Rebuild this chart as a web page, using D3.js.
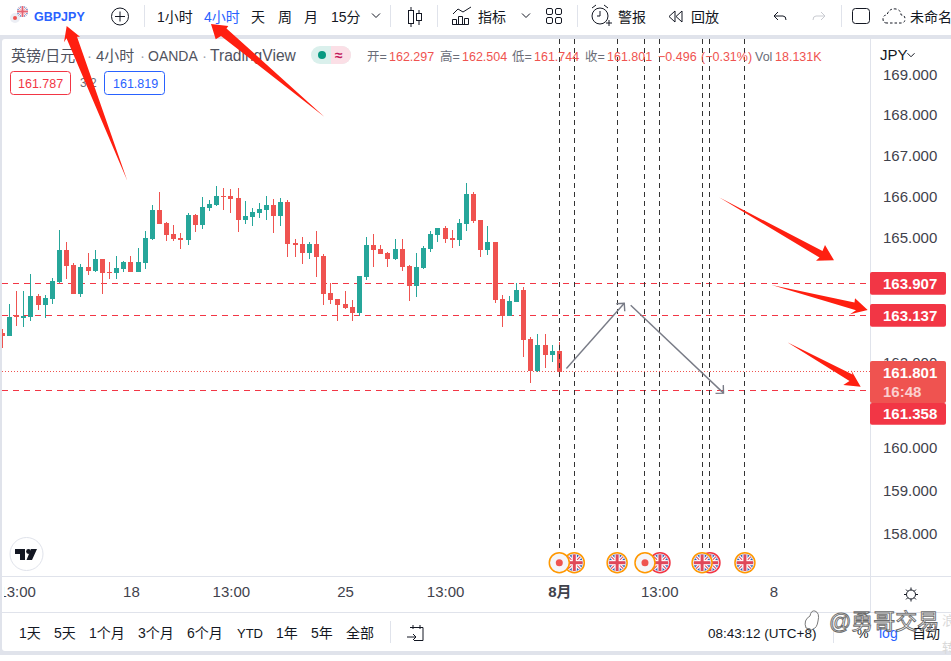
<!DOCTYPE html>
<html>
<head>
<meta charset="utf-8">
<title>GBPJPY</title>
<script src="https://cdn.jsdelivr.net/npm/d3@7"></script>
<style>
  html, body { margin: 0; padding: 0; background: #fff; overflow: hidden; }
  text { font-family: "Liberation Sans", "Noto Sans CJK SC", sans-serif; }
</style>
</head>
<body>
<div id="chart"></div>
<script>
// candles, oldest first (4h bars)
const opens = [162.723,162.659,163.147,163.083,163.107,163.611,163.395,163.539,163.947,164.715,
  164.355,163.659,164.307,164.211,164.499,164.187,164.163,164.259,164.427,164.187,
  164.403,164.979,165.675,165.363,165.099,165.003,164.955,165.555,165.315,165.723,
  165.795,166.011,166.011,165.963,165.435,165.507,165.603,165.675,165.795,165.531,
  165.867,164.883,164.859,164.643,164.859,164.571,163.683,163.539,163.419,163.347,
  163.203,164.067,164.835,164.739,164.643,164.499,164.739,164.331,163.851,164.283,
  164.739,165.075,165.243,165.003,164.955,165.339,166.059,165.435,164.715,164.907,
  163.539,163.131,163.467,163.755,162.579,161.811,162.435,162.195,162.297]
const highs = [162.819,163.419,163.731,163.731,164.139,163.659,163.635,164.043,165.195,164.907,
  164.403,164.379,164.643,164.715,164.499,164.427,164.571,164.451,164.571,164.763,
  165.171,165.795,166.107,165.387,165.315,165.123,165.603,165.579,165.987,165.915,
  166.251,166.203,166.179,166.203,165.891,165.723,165.843,166.011,165.939,165.963,
  165.915,164.979,165.027,164.907,165.171,164.619,163.915,163.539,163.731,163.515,
  164.091,165.027,165.099,164.835,164.667,164.979,164.979,164.355,164.643,164.811,
  165.171,165.243,165.291,165.195,165.459,166.323,166.107,165.435,165.291,164.907,
  163.635,163.611,163.923,163.827,162.627,162.699,162.699,162.435,162.504]
const lows = [162.363,162.659,162.891,162.867,163.011,163.275,163.083,163.419,163.915,164.019,
  163.659,163.587,164.115,164.187,163.659,164.019,164.019,164.187,164.187,164.187,
  164.259,164.955,165.339,164.931,164.931,164.739,164.835,165.147,165.219,165.651,
  165.771,165.675,165.603,165.147,165.339,165.291,165.483,165.435,165.123,165.291,
  164.547,164.547,164.379,164.499,164.067,163.395,163.419,163.011,163.299,163.011,
  163.131,163.995,164.307,164.619,164.307,164.475,164.211,163.491,163.587,164.259,
  164.667,164.907,164.883,164.763,164.811,165.171,165.363,164.547,164.595,163.443,
  162.867,163.131,163.467,162.147,161.523,161.787,161.883,162.027,161.744]
const closes = [162.659,163.107,163.099,163.131,163.611,163.395,163.563,163.971,164.715,164.331,
  163.659,164.307,164.211,164.499,164.163,164.163,164.283,164.427,164.187,164.427,
  165.003,165.675,165.339,165.075,164.979,164.963,165.555,165.315,165.747,165.819,
  166.011,165.987,165.939,165.435,165.531,165.627,165.699,165.795,165.531,165.867,
  164.859,164.835,164.643,164.859,164.547,163.659,163.515,163.395,163.323,163.203,
  164.091,164.835,164.715,164.619,164.499,164.739,164.307,163.851,164.307,164.763,
  165.099,165.243,164.979,164.963,165.363,166.059,165.411,164.715,164.907,163.515,
  163.131,163.491,163.755,162.555,161.811,162.435,162.195,162.291,161.801]

const priceTicks = [169, 168, 167, 166, 165, 162, 160, 159, 158]
const timeTicks = [2, 18, 32, 48, 62, 78, 92, 108]
const timeLabels = ['13:00', '18', '13:00', '25', '13:00', '8月', '13:00', '8']

// horizontal levels and economic events
const dashedLevels = [163.907, 163.137, 161.358]
const lastPrice = 161.801
const eventBars = [80.1, 78, 86.1, 92.1, 90, 99.1, 98, 104]
const eventKinds = ['flag', 'dot', 'flag', 'flag', 'dot', 'flag', 'flag', 'flag']
const eventRims = ['#ff9800', '#ff9800', '#ff9800', '#f23645', '#ff9800', '#f23645', '#ff9800', '#ff9800']
const trendBars = [[79, 87.1], [88, 101]]
const trendPrices = [[161.875, 163.427], [163.38, 161.29]]

const up = '#26a69a', down = '#ef5350', alert = '#f23645', blue = '#2962ff', ink = '#131722', soft = '#50535e'
const width = 951, height = 661
const paneRight = 870, paneTop = 39, timeTop = 576.5, barTop = 612.5, panelBottom = 651

const svg = d3.select('#chart').append('svg')
  .attr('width', width).attr('height', height)
  .style('display', 'block')

const x = d3.scaleLinear().domain([0, 78]).range([2.4, 559.3])
const y = d3.scaleLog().domain([169, 158]).range([74.4, 533.8])
// snap to pixel centres, the way the original canvas does
const snap = v => Math.floor(v) + 0.5

// ---- frame ----
svg.append('rect').attr('width', width).attr('height', height).attr('fill', '#fff')
svg.append('rect').attr('y', 35).attr('width', width).attr('height', 620).attr('fill', '#e0e3eb')
svg.append('rect').attr('x', 2).attr('y', paneTop).attr('width', width).attr('height', panelBottom - paneTop)
  .attr('rx', 3).attr('fill', '#fff')

svg.append('clipPath').attr('id', 'pane').append('rect')
  .attr('x', 2).attr('y', paneTop).attr('width', paneRight - 2).attr('height', timeTop - paneTop)
svg.append('clipPath').attr('id', 'timeClip').append('rect')
  .attr('x', 4).attr('y', 0).attr('width', width).attr('height', 40)

const pane = svg.append('g').attr('clip-path', 'url(#pane)')

// ---- levels ----
pane.selectAll('.level').data(dashedLevels).join('line')
  .attr('x1', 2).attr('x2', paneRight)
  .attr('y1', d => snap(y(d))).attr('y2', d => snap(y(d)))
  .attr('stroke', alert).attr('stroke-width', 1).attr('stroke-dasharray', '6 5')

pane.append('line')
  .attr('x1', 2).attr('x2', paneRight).attr('y1', snap(y(lastPrice))).attr('y2', snap(y(lastPrice)))
  .attr('stroke', down).attr('stroke-width', 1).attr('stroke-dasharray', '1 2')

// ---- candles ----
const bodyLeft = i => Math.round(x(i) - 2.5)
const candles = pane.selectAll('.candle').data(d3.range(opens.length)).join('g')
candles.append('line')
  .attr('x1', i => bodyLeft(i) + 2.5).attr('x2', i => bodyLeft(i) + 2.5)
  .attr('y1', i => Math.round(y(highs[i]))).attr('y2', i => Math.round(y(lows[i])))
  .attr('stroke', i => closes[i] >= opens[i] ? up : down).attr('stroke-width', 1)
candles.append('rect')
  .attr('x', bodyLeft).attr('width', 5)
  .attr('y', i => Math.round(y(Math.max(opens[i], closes[i]))))
  .attr('height', i => Math.max(1, Math.round(Math.abs(y(opens[i]) - y(closes[i])))))
  .attr('fill', i => closes[i] >= opens[i] ? up : down)

// ---- event lines ----
pane.selectAll('.event').data(eventBars).join('line')
  .attr('x1', d => snap(x(d))).attr('x2', d => snap(x(d)))
  .attr('y1', paneTop).attr('y2', 552)
  .attr('stroke', '#333').attr('stroke-width', 1).attr('stroke-dasharray', '5 4')

// ---- drawn arrows ----
trendBars.forEach((bars, k) => {
  const x1 = x(bars[0]), x2 = x(bars[1]), y1 = y(trendPrices[k][0]), y2 = y(trendPrices[k][1])
  const a = Math.atan2(y2 - y1, x2 - x1)
  const head = [a + Math.PI - 0.785, a - Math.PI + 0.785].map(t => [x2 + 8 * Math.cos(t), y2 + 8 * Math.sin(t)])
  const g = svg.append('g').attr('stroke', '#787b86').attr('stroke-width', 1.4).attr('fill', 'none')
  g.append('line').attr('x1', x1).attr('y1', y1).attr('x2', x2).attr('y2', y2)
  g.append('path').attr('d', d3.line()([head[0], [x2, y2], head[1]]))
})

// ---- event markers ----
function ukFlag(g, cx, cy, id, r) {
  const k = r / 8.5
  g.append('clipPath').attr('id', id).append('circle').attr('cx', cx).attr('cy', cy).attr('r', r)
  const f = g.append('g').attr('clip-path', `url(#${id})`)
  f.append('rect').attr('x', cx - r).attr('y', cy - r).attr('width', 2 * r).attr('height', 2 * r).attr('fill', '#2f5db5')
  const diag = [[-r, -r, r, r], [-r, r, r, -r]]
  diag.forEach(d => f.append('line').attr('x1', cx + d[0]).attr('y1', cy + d[1]).attr('x2', cx + d[2]).attr('y2', cy + d[3]).attr('stroke', '#fff').attr('stroke-width', 3.4 * k))
  diag.forEach(d => f.append('line').attr('x1', cx + d[0]).attr('y1', cy + d[1]).attr('x2', cx + d[2]).attr('y2', cy + d[3]).attr('stroke', '#e0485a').attr('stroke-width', 1.1 * k))
  f.append('rect').attr('x', cx - r).attr('y', cy - 2.6 * k).attr('width', 2 * r).attr('height', 5.2 * k).attr('fill', '#fff')
  f.append('rect').attr('x', cx - 2.6 * k).attr('y', cy - r).attr('width', 5.2 * k).attr('height', 2 * r).attr('fill', '#fff')
  f.append('rect').attr('x', cx - r).attr('y', cy - 1.5 * k).attr('width', 2 * r).attr('height', 3 * k).attr('fill', '#e0485a')
  f.append('rect').attr('x', cx - 1.5 * k).attr('y', cy - r).attr('width', 3 * k).attr('height', 2 * r).attr('fill', '#e0485a')
}

eventBars.forEach((d, i) => {
  const cx = x(d), cy = 562.7
  const g = svg.append('g')
  g.append('circle').attr('cx', cx).attr('cy', cy).attr('r', 10).attr('fill', '#f5f5f9')
    .attr('stroke', eventRims[i]).attr('stroke-width', 1.5)
  if (eventKinds[i] === 'dot') {
    g.append('circle').attr('cx', cx).attr('cy', cy).attr('r', 3.5).attr('fill', down)
  } else {
    ukFlag(g, cx, cy, 'flag' + i, 8.5)
  }
})

// ---- axes ----
svg.append('line').attr('x1', paneRight + 0.5).attr('x2', paneRight + 0.5).attr('y1', paneTop).attr('y2', barTop).attr('stroke', '#e0e3eb')
svg.append('line').attr('x1', 2).attr('x2', width).attr('y1', timeTop).attr('y2', timeTop).attr('stroke', '#e0e3eb')
svg.append('line').attr('x1', 2).attr('x2', width).attr('y1', barTop).attr('y2', barTop).attr('stroke', '#e0e3eb')

const priceAxis = svg.append('g')
  .attr('transform', `translate(${paneRight},0)`)
  .call(d3.axisRight(y).tickValues(priceTicks).tickSize(0).tickPadding(13).tickFormat(d3.format('.3f')))
priceAxis.select('.domain').remove()
priceAxis.selectAll('text').attr('font-size', 15).attr('fill', '#3f424c')

const timeAxis = svg.append('g')
  .attr('transform', `translate(0,${timeTop})`)
  .attr('clip-path', 'url(#timeClip)')
  .call(d3.axisBottom(x).tickValues(timeTicks).tickSize(0).tickPadding(10)
    .tickFormat((d, i) => timeLabels[i]))
timeAxis.select('.domain').remove()
timeAxis.selectAll('text')
  .attr('font-size', 15).attr('fill', '#3f424c')
  .attr('font-weight', d => d === 78 ? 'bold' : 'normal')

// ---- price labels ----
function priceBox(top, h, color) {
  svg.append('rect').attr('x', paneRight).attr('y', top).attr('width', 76).attr('height', h).attr('rx', 2).attr('fill', color)
}
function boxText(s, cy, fill) {
  svg.append('text').attr('x', 883).attr('y', cy + 5.5).attr('font-size', 15).attr('font-weight', 'bold')
    .attr('fill', fill).text(s)
}
priceBox(361, 42, down)
priceBox(403, 21.7, alert)
priceBox(272, 22.7, alert)
priceBox(304, 22.7, alert)
boxText('163.907', 283.5, '#fff')
boxText('163.137', 315.5, '#fff')
boxText('161.801', 372.5, '#fff')
boxText('16:48', 391.5, '#fbcfce')
boxText('161.358', 413.5, '#fff')

svg.append('text').attr('x', 880).attr('y', 60).attr('font-size', 15).attr('fill', ink).text('JPY')
chevron(911, 55, 3.5)

// ---- legend ----
function label(s, px, py, size, fill, weight) {
  return svg.append('text').attr('x', px).attr('y', py).attr('font-size', size)
    .attr('fill', fill).attr('font-weight', weight || 'normal').text(s)
}
function chevron(cx, cy, r) {
  svg.append('path').attr('d', `M${cx - r},${cy - r / 2}L${cx},${cy + r / 2}L${cx + r},${cy - r / 2}`)
    .attr('fill', 'none').attr('stroke', ink).attr('stroke-width', 1)
}
label('英镑/日元', 11, 61, 15, soft)
label('·', 87, 61, 15, '#a0a3ad')
label('4小时', 96, 61, 15, soft)
label('·', 140, 61, 15, '#a0a3ad')
label('OANDA', 148, 61, 14, soft)
label('·', 202, 61, 15, '#a0a3ad')
label('TradingView', 210, 61, 15.6, soft)

svg.append('rect').attr('x', 311).attr('y', 46).attr('width', 40).attr('height', 18).attr('rx', 9).attr('fill', '#daf0ec')
svg.append('path').attr('d', 'M331,46h11a9,9 0 0 1 0,18h-11z').attr('fill', '#fbdfe6')
svg.append('circle').attr('cx', 322).attr('cy', 55).attr('r', 4).attr('fill', '#089981')
label('≈', 335, 60, 14, '#c2185b', 'bold')

const legendKeys = ['开=', '高=', '低=', '收=']
const legendVals = ['162.297', '162.504', '161.744', '161.801']
const legendKeyX = [367, 440, 512, 585]
legendKeys.forEach((k, i) => {
  label(k, legendKeyX[i], 61, 12.5, '#6a6d78')
  label(legendVals[i], legendKeyX[i] + 22, 61, 12.5, down)
})
label('−0.496', 658, 61, 12.5, down)
label('(−0.31%)', 701, 61, 12.5, down)
label('Vol', 755, 61, 12.5, '#6a6d78')
label('18.131K', 775, 61, 12.5, down)

svg.append('rect').attr('x', 10.5).attr('y', 71.5).attr('width', 60).attr('height', 23).attr('rx', 3).attr('fill', '#fff').attr('stroke', alert)
label('161.787', 18, 88, 12.5, alert)
label('3.2', 80, 87, 12, '#6a6d78')
svg.append('rect').attr('x', 104.5).attr('y', 71.5).attr('width', 60).attr('height', 23).attr('rx', 3).attr('fill', '#fff').attr('stroke', blue)
label('161.819', 113, 88, 12.5, blue)

// ---- top toolbar ----
svg.append('circle').attr('cx', 15).attr('cy', 18).attr('r', 5).attr('fill', '#eceef4')
svg.append('circle').attr('cx', 15).attr('cy', 18).attr('r', 2).attr('fill', down)
const logo = svg.append('g').attr('opacity', 0.85)
ukFlag(logo, 22.5, 11.5, 'logoFlag', 5.5)
label('GBPJPY', 34, 21, 12.5, blue, 'bold')

svg.append('circle').attr('cx', 120).attr('cy', 16.5).attr('r', 8.5).attr('fill', 'none').attr('stroke', ink)
svg.append('path').attr('d', 'M115,16.5h10M120,11.5v10').attr('stroke', ink)

const toolLabels = ['1小时', '4小时', '天', '周', '月', '15分', '指标', '警报', '回放', '未命名']
const toolX = [157, 204, 251, 278, 304, 331, 478, 618, 691, 910]
toolLabels.forEach((s, i) => label(s, toolX[i], 22, 14, s === '4小时' ? blue : ink))

const toolSeps = [144.5, 390.5, 437.5, 577.5, 841.5]
toolSeps.forEach(px => svg.append('line').attr('x1', px).attr('x2', px).attr('y1', 5).attr('y2', 27).attr('stroke', '#e0e3eb'))
chevron(376, 15.5, 4)
chevron(526, 15.5, 4)

// candle icon
svg.append('path').attr('d', 'M411,7v20M419,10v15').attr('stroke', ink)
svg.append('rect').attr('x', 408.5).attr('y', 10.5).attr('width', 5).attr('height', 13).attr('fill', '#fff').attr('stroke', ink)
svg.append('rect').attr('x', 416.5).attr('y', 13.5).attr('width', 5).attr('height', 7).attr('fill', '#fff').attr('stroke', ink)
// indicator icon
svg.append('path').attr('d', 'M452.5,24.5v-5h4v5h-4M458.5,24.5v-8h4v8M464.5,24.5v-6h4v6h-16M453,14l5,-5l5,3l8,-5')
  .attr('fill', 'none').attr('stroke', ink)
// layout grid icon
const gridX = [546.5, 555.5], gridY = [8.5, 17.5]
gridX.forEach(a => gridY.forEach(b => svg.append('rect').attr('x', a).attr('y', b).attr('width', 6).attr('height', 6).attr('rx', 1.5).attr('fill', 'none').attr('stroke', ink)))
// alarm icon
svg.append('circle').attr('cx', 600).attr('cy', 16).attr('r', 8).attr('fill', 'none').attr('stroke', ink)
svg.append('path').attr('d', 'M600,11v5h-3M592,8l4,-3M608,8l-4,-3M606,23h6M609,20v6').attr('fill', '#fff').attr('stroke', ink)
// replay icon
svg.append('path').attr('d', 'M675,11l-6,5.5l6,5.5zM682,11l-6,5.5l6,5.5z').attr('fill', 'none').attr('stroke', ink)
// undo, redo
svg.append('path').attr('d', 'M778,12l-4,4l4,4M774,16h9q3,0 3,4').attr('fill', 'none').attr('stroke', ink)
svg.append('path').attr('d', 'M821,12l4,4l-4,4M825,16h-9q-3,0 -3,4').attr('fill', 'none').attr('stroke', '#c9cbd1')
svg.append('rect').attr('x', 852.5).attr('y', 8.5).attr('width', 17).attr('height', 15).attr('rx', 3).attr('fill', 'none').attr('stroke', ink)
svg.append('path').attr('d', 'M887,23q-4,0 -4,-4q0,-4 4,-4q2,-7 9,-6q5,1 5,6q4,0 4,4q0,4 -4,4z')
  .attr('fill', 'none').attr('stroke', ink).attr('stroke-dasharray', '2.5 2')

// ---- bottom bar ----
const rangeLabels = ['1天', '5天', '1个月', '3个月', '6个月', 'YTD', '1年', '5年', '全部']
const rangeX = [19, 54, 89, 138, 187, 237, 276, 311, 346]
rangeLabels.forEach((s, i) => label(s, rangeX[i], 638, s === 'YTD' ? 13 : 14, ink))
svg.append('line').attr('x1', 390.5).attr('x2', 390.5).attr('y1', 621).attr('y2', 643).attr('stroke', '#e0e3eb')
svg.append('path').attr('d', 'M410,627.5h13v13h-9M413,625v4M420,625v4M407,637h9M413,634l3,3l-3,3')
  .attr('fill', 'none').attr('stroke', ink)
label('08:43:12 (UTC+8)', 708, 638, 13.5, ink)
svg.append('line').attr('x1', 833.5).attr('x2', 833.5).attr('y1', 621).attr('y2', 643).attr('stroke', '#e0e3eb')
label('%', 857, 638, 13, ink)
label('log', 879, 638, 14, blue)
label('自动', 912, 638, 14, ink)

// settings gear
svg.append('circle').attr('cx', 911).attr('cy', 594.5).attr('r', 4.5).attr('fill', 'none').attr('stroke', ink)
svg.append('path')
  .attr('d', d3.range(8).map(k => {
    const t = k * Math.PI / 4
    return `M${911 + 4.5 * Math.cos(t)},${594.5 + 4.5 * Math.sin(t)}L${911 + 7 * Math.cos(t)},${594.5 + 7 * Math.sin(t)}`
  }).join(''))
  .attr('stroke', ink)

// TradingView badge
svg.append('circle').attr('cx', 26.5).attr('cy', 554).attr('r', 16.5).attr('fill', '#fff').attr('stroke', '#e0e3eb')
svg.append('path').attr('d', 'M15,549h10v11h-5v-6h-5zM31,549h6l-5,11h-5.5z').attr('fill', ink)
svg.append('circle').attr('cx', 28.5).attr('cy', 551.5).attr('r', 2.4).attr('fill', ink)

// ---- red hand drawn arrows ----
const redArrows = [
  [[127.3, 180.7], [66.5, 38.3], [64, 42.3], [66.7, 26], [80, 36.7], [77, 36.7]],
  [[324.3, 116.7], [221, 36], [215.7, 39.3], [211, 24], [228.3, 26], [226.5, 28.5]],
  [[719, 197.3], [819.5, 257.5], [816, 260.7], [834, 260.3], [825, 245], [822.5, 251]],
  [[771.7, 285], [856, 310.3], [850, 314.3], [867.7, 310], [855, 298.3], [854.5, 302.5]],
  [[787.3, 342.3], [849.5, 381], [843.3, 385], [860.7, 386.7], [851, 370], [852.5, 374.5]]
]
svg.selectAll('.red-arrow').data(redArrows).join('polygon')
  .attr('points', d => d.join(' '))
  .attr('fill', '#ff1f10')

// ---- watermark ----
svg.append('path').attr('d', 'M806,628q-3,-8 4,-12q1,-6 5,-5q5,2 3,10q-1,7 -5,8q-1,2 -3,0zM809,628v4')
  .attr('fill', 'none').attr('stroke', '#6b6b6b').attr('stroke-width', 0.9)
const mark = label('@勇哥交易', 829, 629, 22, '#fff')
mark.attr('stroke', '#6b6b6b').attr('stroke-width', 0.9).attr('fill-opacity', 0.35)
label('浪', 942, 625, 13, '#d9d9d9')
label('转', 942, 652, 13, '#d9d9d9')
</script>
</body>
</html>
